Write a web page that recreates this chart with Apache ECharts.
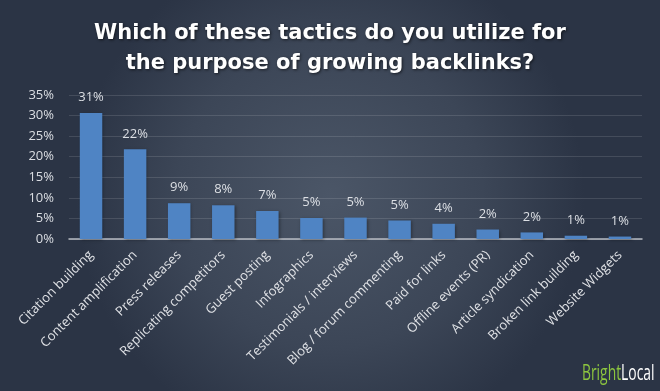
<!DOCTYPE html>
<html><head><meta charset="utf-8">
<script src="https://cdn.jsdelivr.net/npm/echarts@6/dist/echarts.min.js"></script>
<style>html,body{margin:0;padding:0;background:#2d3647}#c{width:660px;height:391px}</style>
</head><body><div id="c"></div>
<script>
const categories = ["Citation building","Content amplification","Press releases","Replicating competitors","Guest posting","Infographics","Testimonials / interviews","Blog / forum commenting","Paid for links","Offline events (PR)","Article syndication","Broken link building","Website Widgets"];
const values = [30.6, 21.8, 8.7, 8.2, 6.8, 5.1, 5.2, 4.5, 3.7, 2.3, 1.6, 0.8, 0.6];
const valueLabels = ["31%","22%","9%","8%","7%","5%","5%","5%","4%","2%","2%","1%","1%"];
const titleLines = ["Which of these tactics do you utilize for","the purpose of growing backlinks?"];

const chart = echarts.init(document.getElementById('c'), null, {renderer:'canvas'});
const font = "'Open Sans', 'DejaVu Sans', sans-serif";
chart.setOption({
  backgroundColor: {
    type:'radial', x:0.5, y:0.5, r:0.65,
    colorStops:[{offset:0,color:'#4b5667'},{offset:0.6,color:'#3c4657'},{offset:1,color:'#2b3445'}]
  },
  title: {
    text: titleLines.join('\n'),
    left: 'center', top: 14,
    textStyle: {color:'#ffffff', fontSize:21, fontWeight:'bold', fontFamily:"'DejaVu Sans', sans-serif", lineHeight:30,
      textShadowColor:'rgba(0,0,0,0.6)', textShadowBlur:3, textShadowOffsetX:1, textShadowOffsetY:1}
  },
  grid: {left:69, right:18, top:95, bottom:152},
  xAxis: {
    type:'category', data:categories,
    axisLine:{lineStyle:{color:'#b8bcc4', width:1.5}},
    axisTick:{show:false},
    axisLabel:{rotate:45, color:'#e0e2e6', fontSize:13, fontFamily:font, margin:14, interval:0}
  },
  yAxis: {
    type:'value', min:0, max:35, interval:5,
    axisLine:{show:false}, axisTick:{show:false},
    axisLabel:{color:'#dcdfe4', fontSize:13, fontFamily:font, formatter:'{value}%', margin:15},
    splitLine:{lineStyle:{color:'rgba(255,255,255,0.12)', width:1}}
  },
  series: [{
    type:'bar', data:values, barWidth:'51%',
    itemStyle:{color:'#4f84c4', shadowColor:'rgba(0,0,0,0.35)', shadowBlur:3, shadowOffsetX:1, shadowOffsetY:1},
    label:{show:true, position:'top', distance:9, color:'#dcdfe4', fontSize:13, fontFamily:font,
      formatter: p => valueLabels[p.dataIndex]},
    animation:false
  }],
  animation:false,
  graphic: [{
    type:'text', x:582, y:385, scaleX:0.66,
    style:{
      x:0, y:0, textVerticalAlign:'bottom',
      text:'{g|Bright}{w|Local}',
      rich:{
        g:{fill:'#8dc63f', fontSize:21, fontFamily:font},
        w:{fill:'#ffffff', fontSize:21, fontFamily:font}
      }
    }
  }]
});
</script></body></html>
